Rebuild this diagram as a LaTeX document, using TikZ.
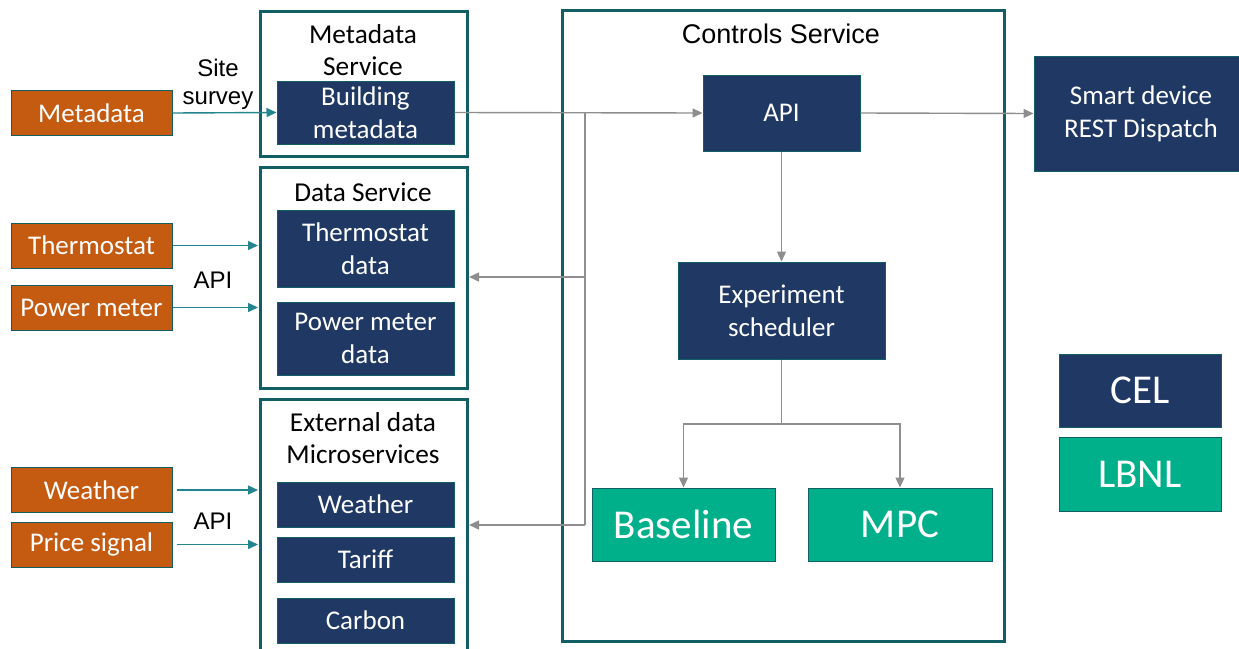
\documentclass[tikz,border=0pt]{standalone}
\usepackage{fontspec}
\setmainfont{Carlito}
\newfontfamily\arialfont{Liberation Sans}
\usetikzlibrary{arrows.meta}
\definecolor{srcorange}{HTML}{C55A11}
\definecolor{navy}{HTML}{203864}
\definecolor{lbgreen}{HTML}{00B08A}
\definecolor{frame}{HTML}{125E66}
\definecolor{tealline}{HTML}{23868F}
\definecolor{greyline}{HTML}{8E8E8E}
\tikzset{
  fs/.style args={#1/#2}{font=\fontsize{#1}{#2}\selectfont},
  base/.style={draw=frame, line width=1pt, text=white, align=center, inner sep=0pt},
  srcbox/.style={base, fill=srcorange, minimum width=161pt, minimum height=45pt, fs=27/32},
  navybox/.style={base, fill=navy, fs=27/33},
  greenbox/.style={base, fill=lbgreen, fs=41/48},
  svcframe/.style={draw=frame, line width=3pt},
  svctitle/.style={align=center, fs=27.3/32},
  arlabel/.style={align=center, font=\arialfont\fontsize{24}{28}\selectfont},
  tealarrow/.style={draw=tealline, line width=1.4pt, -{Triangle[length=10pt,width=9pt]}},
  greyarrow/.style={draw=greyline, line width=1.4pt, -{Triangle[length=10pt,width=9pt]}},
  greyline/.style={draw=greyline, line width=1.4pt},
}
\begin{document}
\begin{tikzpicture}[x=1pt, y=-1pt]
\clip (0,0) rectangle (1239,648);
\fill[white] (0,0) rectangle (1239,648);

% service frames
\draw[svcframe] (260,11) rectangle (467,156);
\draw[svcframe] (260,167) rectangle (467,388);
\draw[svcframe] (260,399) rectangle (467,670);
\draw[svcframe] (562,10) rectangle (1004,641);

\node[svctitle] (msvct) at (363,50.5) {Metadata\\Service};
\node[svctitle] (dsvct) at (363,192) {Data Service};
\node[svctitle] (esvct) at (363,438) {External data\\Microservices};
\node[font=\arialfont\fontsize{27}{31}\selectfont] (csvct) at (781,34) {Controls Service};

% sources
\node[srcbox] (meta) at (91.5,113) {Metadata};
\node[srcbox] (thermo) at (91.5,245.5) {Thermostat};
\node[srcbox] (power) at (91.5,307.5) {Power meter};
\node[srcbox] (weather) at (91.5,490) {Weather};
\node[srcbox] (price) at (91.5,544.5) {Price signal};

\node[arlabel] (site) at (218,84) {Site\\survey};
\node[arlabel] (api1) at (213,280) {API};
\node[arlabel] (api2) at (213,521) {API};

% data services
\node[navybox, minimum width=177pt, minimum height=63pt] (bmeta) at (365.5,112.5) {Building\\metadata};
\node[navybox, minimum width=177pt, minimum height=77pt] (tdata) at (365.5,248.5) {Thermostat\\data};
\node[navybox, minimum width=177pt, minimum height=73pt] (pdata) at (365.5,338.5) {Power meter\\data};
\node[navybox, minimum width=177pt, minimum height=45pt] (wdata) at (365.5,504.5) {Weather};
\node[navybox, minimum width=177pt, minimum height=45pt] (tariff) at (365.5,559.5) {Tariff};
\node[navybox, minimum width=177pt, minimum height=45pt] (carbon) at (365.5,620.5) {Carbon};

% controls
\node[navybox, minimum width=157pt, minimum height=76pt] (api) at (781.5,113) {API};
\node[navybox, minimum width=207pt, minimum height=97pt] (sched) at (781.5,310.5) {Experiment\\scheduler};
\node[greenbox, minimum width=183pt, minimum height=73pt] (baseline) at (683.5,524.5) {Baseline};
\node[greenbox, minimum width=184pt, minimum height=73pt] (mpc) at (900,524.5) {MPC};

\node[navybox, minimum width=214pt, minimum height=115pt] (smart) at (1141,113.5) {Smart device\\REST Dispatch};

% legend
\node[navybox, fs=41/48, minimum width=162pt, minimum height=73pt] (cel) at (1140,390.5) {CEL};
\node[greenbox, minimum width=162pt, minimum height=74pt] (lbnl) at (1140,474) {LBNL};

% bus coordinates
\coordinate (bustop) at (585,113);
\coordinate (busmid) at (585,277);
\coordinate (busbot) at (585,525);
\coordinate (split) at (781.5,424);
\coordinate (dsvcE) at (469,277);
\coordinate (esvcE) at (469,525);
\coordinate (dsvcW) at (258,0);

% source arrows
\draw[tealarrow] (meta.east) -- (bmeta.west);
\draw[tealarrow] (thermo.east) -- (thermo.east -| dsvcW);
\draw[tealarrow] (power.east) -- (power.east -| dsvcW);
\draw[tealarrow] ([xshift=4pt]weather.east) -- (weather.east -| dsvcW);
\draw[tealarrow] ([xshift=4pt]price.east) -- (price.east -| dsvcW);

% control arrows
\draw[greyarrow] (bmeta.east) -- (api.west);
\draw[greyline] (bustop) -- (busbot);
\draw[greyarrow] (busmid) -- (dsvcE);
\draw[greyarrow] (busbot) -- (esvcE);
\draw[greyarrow] (api.south) -- (sched.north);
\draw[greyline] (sched.south) -- (split);
\draw[greyarrow] (split) -| (baseline.north);
\draw[greyarrow] (split) -| (mpc.north);
\draw[greyarrow] (api.east) -- (smart.west);
\end{tikzpicture}
\end{document}
